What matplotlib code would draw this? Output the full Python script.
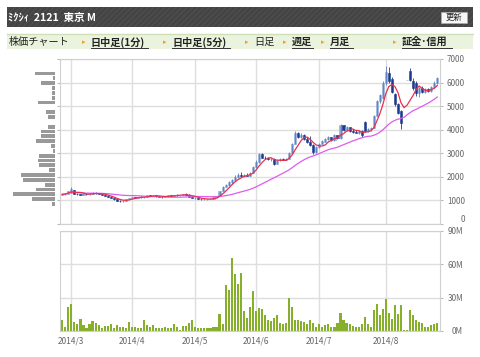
import matplotlib.pyplot as plt
import matplotlib.patches as mpatches
from matplotlib.lines import Line2D
import pandas as pd

plt.rcParams['font.family'] = ['Noto Sans CJK JP', 'DejaVu Sans']

# daily candles, late Feb 2014 .. late Aug 2014 (trading-day index)
opens = [1230, 1260, 1270, 1330, 1450, 1280, 1260, 1250, 1290, 1260,
         1280, 1320, 1300, 1270, 1240, 1200, 1150, 1100, 1040, 980,
         960, 990, 1050, 1110, 1140, 1120, 1140, 1130, 1150, 1210,
         1200, 1220, 1170, 1150, 1140, 1170, 1220, 1200, 1230, 1220,
         1240, 1270, 1240, 1150, 1100, 1110, 1060, 1040, 1050, 1060,
         1080, 1130, 1200, 1420, 1580, 1640, 1780, 1860, 2000, 2080,
         2020, 2100, 2050, 2180, 2400, 2650, 2950, 2820, 2800, 2740,
         2760, 2560, 2700, 2750, 2730, 2760, 3000, 3400, 3850, 3700,
         3780, 3600, 3500, 3350, 3050, 3250, 3400, 3500, 3600, 3680,
         3560, 3760, 3640, 4200, 4000, 4100, 3950, 3920, 3880, 3960,
         4320, 3940, 4020, 4080, 4600, 5200, 5350, 5980, 6400, 6150,
         5500, 5100, 4800, 5000, 6130, 6500, 6050, 6000, 5550, 5750,
         5600, 5720, 5650, 5800, 6000]
highs = [1270, 1300, 1420, 1570, 1460, 1300, 1290, 1300, 1310, 1300,
         1340, 1350, 1320, 1290, 1260, 1220, 1170, 1110, 1060, 1010,
         1000, 1060, 1120, 1150, 1160, 1150, 1170, 1160, 1220, 1240,
         1230, 1230, 1190, 1170, 1180, 1230, 1240, 1240, 1260, 1250,
         1290, 1300, 1260, 1170, 1130, 1120, 1080, 1070, 1080, 1100,
         1140, 1200, 1420, 1620, 1700, 1820, 1900, 2060, 2150, 2200,
         2120, 2180, 2200, 2450, 2700, 3000, 3000, 2880, 2850, 2800,
         2780, 2720, 2780, 2800, 2780, 3050, 3450, 3950, 3900, 3850,
         3800, 3700, 3750, 3380, 3300, 3450, 3560, 3640, 3720, 3700,
         3800, 3780, 4250, 4220, 4150, 4120, 4020, 3980, 4000, 3980,
         4380, 4060, 4120, 4620, 5260, 5520, 6050, 6720, 6680, 6250,
         5550, 5150, 4850, 5000, 6130, 6600, 6200, 6050, 5800, 5850,
         5780, 5760, 5850, 6050, 6250]
lows = [1220, 1240, 1260, 1300, 1260, 1240, 1230, 1240, 1250, 1240,
        1270, 1280, 1260, 1230, 1190, 1140, 1090, 1020, 960, 930,
        940, 980, 1040, 1090, 1100, 1100, 1110, 1100, 1140, 1180,
        1170, 1160, 1130, 1120, 1130, 1160, 1190, 1190, 1200, 1200,
        1220, 1220, 1130, 1090, 1070, 1050, 1020, 1020, 1030, 1040,
        1070, 1120, 1190, 1400, 1560, 1600, 1700, 1820, 1950, 1980,
        1990, 2020, 2030, 2150, 2380, 2600, 2780, 2760, 2700, 2680,
        2520, 2540, 2680, 2700, 2700, 2740, 2980, 3380, 3650, 3650,
        3550, 3450, 3300, 2950, 3020, 3230, 3380, 3480, 3560, 3520,
        3540, 3600, 3620, 3950, 3950, 3900, 3880, 3840, 3800, 3700,
        3900, 3900, 3960, 4060, 4580, 5150, 5300, 5900, 6000, 5550,
        5000, 4650, 4050, 5000, 6130, 6050, 5700, 5450, 5400, 5550,
        5550, 5600, 5620, 5780, 5950]
closes = [1260, 1280, 1400, 1500, 1280, 1260, 1250, 1290, 1260, 1280,
          1320, 1300, 1270, 1240, 1200, 1150, 1100, 1040, 980, 960,
          990, 1050, 1110, 1140, 1120, 1140, 1130, 1150, 1210, 1200,
          1220, 1170, 1150, 1140, 1170, 1220, 1200, 1230, 1220, 1240,
          1270, 1240, 1150, 1100, 1110, 1060, 1040, 1050, 1060, 1080,
          1130, 1180, 1400, 1580, 1650, 1780, 1860, 2000, 2080, 2020,
          2100, 2050, 2180, 2400, 2650, 2950, 2820, 2800, 2740, 2760,
          2560, 2700, 2750, 2730, 2760, 3000, 3400, 3850, 3700, 3780,
          3600, 3500, 3350, 3050, 3250, 3400, 3500, 3600, 3680, 3560,
          3760, 3640, 4200, 4000, 4100, 3950, 3920, 3880, 3960, 3760,
          3940, 4020, 4080, 4580, 5200, 5480, 5980, 6450, 6050, 5600,
          5080, 4700, 4300, 5000, 6130, 6100, 5750, 5550, 5750, 5600,
          5720, 5650, 5800, 6000, 6200]
# volume, millions of shares
volumes = [10, 4, 22, 24, 8.5, 6, 11, 5, 2.5, 6.5,
           9, 7, 5.3, 3, 4.7, 4.7, 6.5, 3, 5.3, 4,
           4, 3, 8, 3.2, 3.2, 2.4, 2.4, 10, 5.3, 4,
           5.3, 3, 2.4, 2.4, 3.2, 3, 2.4, 6, 4, 1.2,
           4.7, 4.7, 7, 10, 3.2, 3, 3, 2.4, 3, 2.4,
           3.2, 3.2, 15.6, 6.5, 41, 37, 66, 51, 42, 52,
           18, 12, 22, 36, 18, 21, 20, 14, 9.5, 9,
           12, 14, 7.6, 6, 7.6, 30, 22, 9.5, 10, 9,
           8.2, 6.5, 10, 7.6, 4, 6, 4, 5.3, 6, 3.5,
           4, 7, 16, 9.5, 7, 6, 4.7, 3.5, 4, 6,
           13, 6, 3.5, 18.5, 24, 14, 20, 29, 16, 10.6,
           23, 15, 23, 1.2, 1.2, 18.5, 14, 10, 8.2, 7.6,
           4, 4, 5.3, 6.5, 7]

month_pos = [3, 23, 44, 64, 85, 107]
month_labels = ["2014/3", "2014/4", "2014/5", "2014/6", "2014/7", "2014/8"]

# volume by price (price band centre, relative amount)
vbp_prices = [850, 1055, 1260, 1465, 1670, 1875, 2080, 2285, 2490, 2695,
              2900, 3105, 3310, 3515, 3720, 3925, 4130, 4335, 4540, 4745,
              4950, 5155, 5360, 5565, 5770, 5975, 6180, 6385]
vbp_amount = [3, 22.7, 42, 19.3, 10.3, 32.3, 34, 6.3, 16, 17,
              16, 2, 4.3, 19, 14, 14, 7.3, 0, 7, 9,
              0, 17, 3.3, 2.7, 3.3, 14, 2.3, 20]

W, H = 480, 357


def fx(x):
    return x / W


def fy(y):
    return 1 - y / H


fig = plt.figure(figsize=(4.8, 3.57), dpi=100)

# header bar
plt.rcParams['hatch.linewidth'] = 0.6
hdr = mpatches.Rectangle((fx(7), fy(27)), (473 - 7) / W, 20 / H, transform=fig.transFigure,
                         facecolor='#444444', edgecolor='#535353', hatch='//////', lw=0)
fig.patches.append(hdr)
fig.text(fx(8), fy(17.5), "ﾐｸｼｨ  2121  東京 M", color='white', fontsize=7.6,
         fontweight='bold', va='center', ha='left')
btn = mpatches.Rectangle((fx(441), fy(23)), 26 / W, 11 / H, transform=fig.transFigure,
                         facecolor='#f7f7f7', edgecolor='#aaaaaa', lw=0.6)
fig.patches.append(btn)
fig.text(fx(454), fy(17.5), "更新", color='#222222', fontsize=6, va='center', ha='center')

# nav bar
nav = mpatches.Rectangle((fx(7), fy(49)), (473 - 7) / W, 15 / H, transform=fig.transFigure,
                         facecolor='#eaf3dd', edgecolor='none')
fig.patches.append(nav)
fig.add_artist(Line2D([fx(7), fx(473)], [fy(34), fy(34)], color='#cfe0b8', lw=1))
fig.text(fx(9), fy(42), "株価チャート", fontsize=7.3, color='#222222', va='center', ha='left')
links = [(84, "日中足(1分)", True, 148), (165, "日中足(5分)", True, 230),
         (247, "日足", False, 273), (285, "週足", True, 313),
         (323, "月足", True, 353), (395, "証金･信用", True, 452)]
for tx, label, bold, end in links:
    fig.text(fx(tx), fy(42), "▸", fontsize=5, color='#f0a020', va='center', ha='center',
             family=['DejaVu Sans'])
    fig.text(fx(tx + 7), fy(42), label, fontsize=7.3, color='#222222', va='center', ha='left',
             fontweight='bold' if bold else 'normal')
    if bold:
        fig.add_artist(Line2D([fx(tx + 7), fx(end)], [fy(48), fy(48)], color='#333333', lw=0.7))

xl = (-0.76, 124.9)
grid_c = '#dedede'
spine_c = '#d0d0d0'
lbl_c = '#666666'

# price panel
ax1 = fig.add_axes([fx(60), fy(224), 380 / W, 165 / H])
ax1.set_xlim(*xl)
ax1.set_ylim(0, 7000)
ax1.set_yticks(range(0, 7001, 1000))
ax1.set_xticks(month_pos)
ax1.set_xticklabels([])
ax1.grid(True, color=grid_c, lw=1)
ax1.set_axisbelow(True)
ax1.yaxis.tick_right()
ax1.tick_params(axis='y', left=True, right=True, length=2.5, color='#bbbbbb',
                labelsize=5.8, labelcolor=lbl_c, pad=15.5)
plabels = ax1.get_yticklabels()
for t in plabels:
    t.set_ha('right')
plabels[0].set_va('bottom')
ax1.tick_params(axis='x', length=0)
for s in ax1.spines.values():
    s.set_color(spine_c)

up_c = '#8aa6d6'
dn_c = '#1d3b8e'
for i in range(len(closes)):
    o, h, l, c = opens[i], highs[i], lows[i], closes[i]
    col = up_c if c >= o else dn_c
    ax1.vlines(i, l, h, color=dn_c if c < o else '#5c7fc0', lw=0.6)
    ax1.bar(i, abs(c - o), bottom=min(o, c), width=0.7, color=col, edgecolor=col, lw=0.4)

cs = pd.Series(closes)
ax1.plot(cs.rolling(25, min_periods=1).mean(), color='#dd5cf0', lw=0.9)
ax1.plot(cs.rolling(5, min_periods=1).mean(), color='#e83050', lw=0.9)

# volume-by-price histogram
ax0 = fig.add_axes([fx(10), fy(224), 45 / W, 165 / H])
ax0.barh(vbp_prices, vbp_amount, height=165, color='#999999')
ax0.set_xlim(45, 0)
ax0.set_ylim(0, 7000)
ax0.axis('off')

# volume panel
ax2 = fig.add_axes([fx(60), fy(331), 380 / W, 100 / H])
ax2.set_xlim(*xl)
ax2.set_ylim(0, 90)
ax2.set_yticks([0, 30, 60, 90])
ax2.set_yticklabels(["0M", "30M", "60M", "90M"])
ax2.set_xticks(month_pos)
ax2.set_xticklabels(month_labels)
ax2.grid(True, color=grid_c, lw=1)
ax2.set_axisbelow(True)
ax2.yaxis.tick_right()
ax2.tick_params(axis='y', length=2.5, color='#bbbbbb', labelsize=5.8, labelcolor=lbl_c, pad=14)
for t in ax2.get_yticklabels():
    t.set_ha('right')
ax2.tick_params(axis='x', length=0, labelsize=6, labelcolor=lbl_c, pad=4)
for s in ax2.spines.values():
    s.set_color(spine_c)
ax2.bar(range(len(volumes)), volumes, width=0.7, color='#86b02c')

fig.savefig('out.png', dpi=100)
